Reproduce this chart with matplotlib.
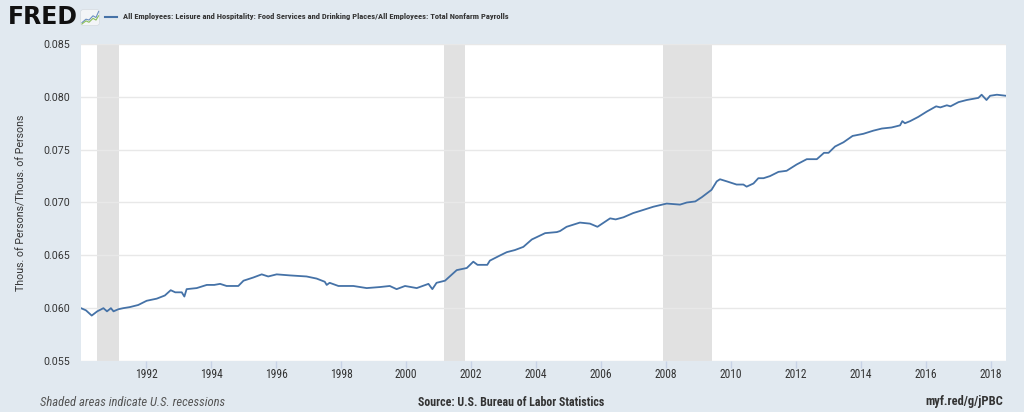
import matplotlib
matplotlib.use("Agg")
import matplotlib.pyplot as plt
from matplotlib.patches import FancyBboxPatch

# ---- data ----
years = [1990.0, 1990.15, 1990.33, 1990.5, 1990.69, 1990.8, 1990.92, 1991.0, 1991.15, 1991.3,
         1991.5, 1991.76, 1992.02, 1992.33, 1992.58, 1992.76, 1992.9, 1993.1, 1993.18, 1993.25,
         1993.56, 1993.87, 1994.1, 1994.28, 1994.48, 1994.84, 1995.0, 1995.3, 1995.56, 1995.76,
         1996.02, 1996.43, 1996.94, 1997.25, 1997.5, 1997.56, 1997.65, 1997.92, 1998.38, 1998.79,
         1999.2, 1999.5, 1999.71, 1999.97, 2000.33, 2000.69, 2000.81, 2000.94, 2001.2, 2001.56,
         2001.87, 2002.07, 2002.2, 2002.5, 2002.58, 2002.9, 2003.1, 2003.35, 2003.61, 2003.87,
         2004.28, 2004.64, 2004.74, 2004.94, 2005.35, 2005.66, 2005.89, 2006.28, 2006.45, 2006.69,
         2006.99, 2007.2, 2007.61, 2008.02, 2008.43, 2008.64, 2008.9, 2009.1, 2009.4, 2009.56,
         2009.66, 2009.87, 2010.17, 2010.38, 2010.48, 2010.69, 2010.84, 2011.0, 2011.2, 2011.46,
         2011.71, 2012.02, 2012.33, 2012.64, 2012.86, 2013.0, 2013.2, 2013.46, 2013.74, 2014.07,
         2014.38, 2014.64, 2014.94, 2015.2, 2015.27, 2015.35, 2015.51, 2015.76, 2016.02, 2016.31,
         2016.44, 2016.64, 2016.75, 2017.0, 2017.25, 2017.61, 2017.71, 2017.86, 2017.97, 2018.18,
         2018.46]
ratio = [0.0600, 0.0598, 0.0593, 0.0597, 0.0600, 0.0597, 0.0600, 0.0597, 0.0599, 0.0600,
         0.0601, 0.0603, 0.0607, 0.0609, 0.0612, 0.0617, 0.0615, 0.0615, 0.0611, 0.0618,
         0.0619, 0.0622, 0.0622, 0.0623, 0.0621, 0.0621, 0.0626, 0.0629, 0.0632, 0.0630,
         0.0632, 0.0631, 0.0630, 0.0628, 0.0625, 0.0622, 0.0624, 0.0621, 0.0621, 0.0619,
         0.0620, 0.0621, 0.0618, 0.0621, 0.0619, 0.0623, 0.0618, 0.0624, 0.0626, 0.0636,
         0.0638, 0.0644, 0.0641, 0.0641, 0.0645, 0.0650, 0.0653, 0.0655, 0.0658, 0.0665,
         0.0671, 0.0672, 0.0673, 0.0677, 0.0681, 0.0680, 0.0677, 0.0685, 0.0684, 0.0686,
         0.0690, 0.0692, 0.0696, 0.0699, 0.0698, 0.0700, 0.0701, 0.0705, 0.0712, 0.0720,
         0.0722, 0.0720, 0.0717, 0.0717, 0.0715, 0.0718, 0.0723, 0.0723, 0.0725, 0.0729,
         0.0730, 0.0736, 0.0741, 0.0741, 0.0747, 0.0747, 0.0753, 0.0757, 0.0763, 0.0765,
         0.0768, 0.0770, 0.0771, 0.0773, 0.0777, 0.0775, 0.0777, 0.0781, 0.0786, 0.0791,
         0.0790, 0.0792, 0.0791, 0.0795, 0.0797, 0.0799, 0.0802, 0.0797, 0.0801, 0.0802,
         0.0801]
recession_start = [1990.5, 2001.17, 2007.92]
recession_end = [1991.17, 2001.83, 2009.42]
x_ticks = [1992, 1994, 1996, 1998, 2000, 2002, 2004, 2006, 2008, 2010, 2012, 2014, 2016, 2018]
y_ticks = [0.055, 0.060, 0.065, 0.070, 0.075, 0.080, 0.085]
title = "All Employees: Leisure and Hospitality: Food Services and Drinking Places/All Employees: Total Nonfarm Payrolls"
y_label = "Thous. of Persons/Thous. of Persons"

BG = "#e1e9f0"
LINE = "#4572a7"
TXT = "#333333"
NARROW = ["Roboto Condensed", "Archivo Narrow", "Liberation Sans Narrow", "DejaVu Sans"]
NORMAL = ["Roboto", "DejaVu Sans"]

plt.rcParams['font.family'] = NORMAL

fig = plt.figure(figsize=(10.24, 4.12), dpi=100, facecolor=BG)
W, H = 1024, 412
ax = fig.add_axes([81 / W, 1 - 361 / H, (1006 - 81) / W, (361 - 44) / H])
ax.set_facecolor("white")

for s, e in zip(recession_start, recession_end):
    ax.axvspan(s, e, color="#e1e1e1", lw=0, zorder=1)

ax.plot(years, ratio, color=LINE, lw=1.3, zorder=3)

ax.set_xlim(years[0], years[-1])
ax.set_ylim(y_ticks[0], y_ticks[-1])
ax.set_yticks(y_ticks)
ax.set_yticklabels([f"{v:.3f}" for v in y_ticks], fontsize=7.7, color=TXT)
ax.set_xticks(x_ticks)
ax.set_xticklabels([str(v) for v in x_ticks], fontsize=8.3, color=TXT, family=NARROW)
ax.grid(axis="y", color="#e8e8e8", lw=1, zorder=0)
ax.tick_params(axis="y", length=0, pad=8)
ax.tick_params(axis="x", length=5, color="#c8d3e6", width=1, pad=0)
for sp in ax.spines.values():
    sp.set_visible(False)
ax.set_ylabel(y_label, fontsize=7.7, color=TXT)
ax.yaxis.set_label_coords((27 - 81) / (1006 - 81), 0.5)

# header
fig.text(8 / W, 1 - 17 / H, "FRED", fontsize=17, fontweight="bold", color="#111111",
         va="center", ha="left", family=["DejaVu Sans"])
icon = fig.add_axes([80 / W, 1 - 26 / H, 20 / W, 17 / H])
icon.set_xlim(0, 10)
icon.set_ylim(0, 10)
icon.axis("off")
icon.add_patch(FancyBboxPatch((0.3, 0.3), 9.4, 9.4, boxstyle="round,pad=0,rounding_size=1.5",
                              fc="#f3f5f7", ec="#d5dbe0", lw=0.5))
icon.plot([1, 3, 4.5, 6.5, 8, 9.3], [2, 4, 3.5, 6, 5, 8.5], color="#6b8fc0", lw=0.8)
icon.plot([1, 3, 4.5, 6.5, 8, 9.3], [1.2, 3, 2.2, 4.5, 3.5, 6], color="#8bbf5a", lw=0.8)
fig.add_artist(plt.Line2D([105 / W, 117 / W], [1 - 17 / H, 1 - 17 / H], color=LINE, lw=1.5))
fig.text(123 / W, 1 - 17 / H, title, fontsize=6.1, fontweight="bold", color=TXT,
         va="center", ha="left", family=NARROW)

# footer
fig.text(40 / W, 1 - 402 / H, "Shaded areas indicate U.S. recessions", fontsize=9.1,
         style="italic", color="#555555", va="center", ha="left", family=NARROW)
fig.text(511 / W, 1 - 402 / H, "Source: U.S. Bureau of Labor Statistics", fontsize=8.6,
         fontweight="bold", color=TXT, va="center", ha="center", family=NARROW)
fig.text(1003 / W, 1 - 402 / H, "myf.red/g/jPBC", fontsize=9.0, fontweight="bold",
         color=TXT, va="center", ha="right", family=NARROW)

fig.savefig("out.png", dpi=100, facecolor=BG)
